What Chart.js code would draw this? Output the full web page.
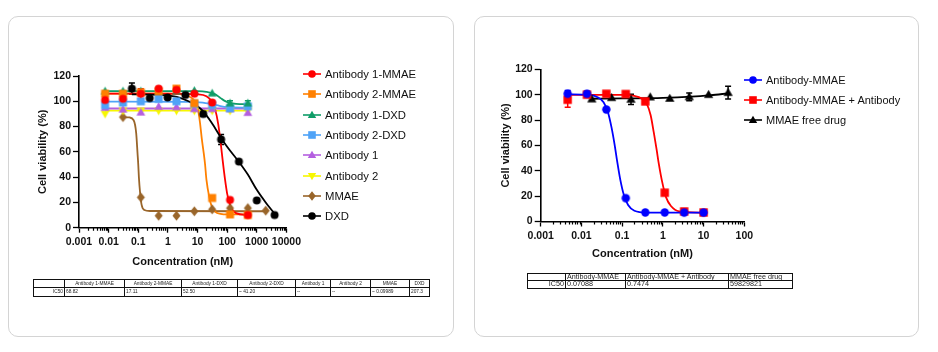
<!DOCTYPE html>
<html>
<head>
<meta charset="utf-8">
<script src="https://cdn.jsdelivr.net/npm/chart.js@4.4.0/dist/chart.umd.min.js"></script>
<style>
  body { margin: 0; background: #fff; font-family: "Liberation Sans", Arial, sans-serif; width: 938px; height: 352px; overflow: hidden; }
  .card { position: absolute; border: 1px solid #d4d4d4; border-radius: 10px; background: #fff; }
  canvas { position: absolute; }
  .legend { position: absolute; color: #111; }
  .legend div { display: flex; align-items: center; white-space: nowrap; }
  .legend canvas { position: static; margin-right: 3px; }
  table { position: absolute; border-collapse: collapse; color: #222; table-layout: fixed; transform: translateZ(0); will-change: transform; }
  td { border: 1px solid #111; padding: 0 1px; white-space: nowrap; overflow: hidden; }
</style>
</head>
<body>
<div class="card" style="left:8px;top:16px;width:444px;height:319px"></div>
<div class="card" style="left:474px;top:16px;width:443px;height:319px"></div>

<canvas id="left" width="274" height="209" style="left:30px;top:60px"></canvas>
<canvas id="right" width="270" height="206" style="left:494px;top:55px"></canvas>
<div class="legend" id="leftLegend" style="left:302px;top:64px;font-size:11.3px"></div>
<div class="legend" id="rightLegend" style="left:743px;top:70px;font-size:11px"></div>
<table id="leftTable" style="left:33px;top:279px;width:396px;font-size:4.8px"></table>
<table id="rightTable" style="left:527px;top:273px;width:265px;font-size:7.2px"></table>

<script>
/* =================================================================
    Data : left chart (8 compounds)
================================================================= */

var leftNames = ["Antibody 1-MMAE", "Antibody 2-MMAE", "Antibody 1-DXD", "Antibody 2-DXD",
                 "Antibody 1", "Antibody 2", "MMAE", "DXD"];
var leftColors = ["#ff0000", "#ff8000", "#0f9d68", "#4fa3f7", "#b45fe0", "#f7f700", "#99652a", "#000000"];
var leftMarkers = ["circle", "rect", "triangle", "rect", "triangle", "triangleDown", "rectRot", "circle"];

var concAb = [0.0076, 0.0305, 0.122, 0.488, 1.95, 7.81, 31.25, 125, 500];
var concMmae = [0.0305, 0.122, 0.488, 1.95, 7.81, 31.25, 125, 500, 2000];
var concDxd = [0.061, 0.244, 0.977, 3.9, 15.6, 62.5, 250, 1000, 4000];

var ab1MmaeY = [101, 102, 106, 110, 109, 106, 99, 22, 10];
var ab1MmaeErr = [0, 5, 4, 0, 0, 0, 0, 0, 0];
var ab2MmaeY = [106, 106, 107, 108, 110, 98.5, 23.5, 10.5, 10];
var ab2MmaeErr = [0, 0, 0, 0, 0, 0, 0, 0, 0];
var ab1DxdY = [108, 108, 108, 108, 108, 108.4, 106.4, 98.5, 98.5];
var ab1DxdErr = [0, 0, 0, 0, 0, 0, 0, 2, 2];
var ab2DxdY = [97, 99, 100, 102, 100, 98, 97, 94.5, 96];
var ab2DxdErr = [0, 0, 0, 0, 0, 0, 0, 0, 0];
var ab1Y = [95, 93.6, 91.3, 95.8, 95.5, 94, 94, 94, 91];
var ab2Y = [90, 92.5, 92.5, 92.5, 92.5, 92.5, 92.5, 92.5, 92.5];
var mmaeY = [87.5, 24, 9.5, 9.5, 13, 14.5, 15.5, 15.5, 13.5];
var dxdY = [110, 102.5, 103, 105, 90, 69.8, 52.3, 21.6, 10];
var dxdErr = [4.5, 0, 0, 0, 2, 4, 0, 0, 0];

// fitted curves
var ab1MmaeFitX = [0.0076, 1, 10, 20, 30, 40, 50, 60, 70, 85, 100, 130, 200, 500];
var ab1MmaeFitY = [106, 106, 105.5, 104, 100, 93, 82, 68, 54, 38, 27, 17, 11.5, 10];
var ab2MmaeFitX = [0.0076, 1, 5, 8, 10, 12, 14, 16, 18, 20, 25, 30, 40, 60, 100, 500];
var ab2MmaeFitY = [106, 106, 104, 100, 95, 84, 70, 60, 50, 38, 24, 17, 12.5, 11, 10.5, 10.5];
var ab1DxdFitX = [0.0076, 10, 20, 40, 60, 80, 120, 200, 500];
var ab1DxdFitY = [108, 108, 107.5, 105.5, 102.5, 100.5, 98.8, 98, 97.8];
var ab2DxdFitX = [0.0076, 5, 15, 30, 41, 60, 100, 500];
var ab2DxdFitY = [99.8, 99.6, 99, 97.8, 97.2, 96.2, 95.4, 95];
var ab1FitX = [0.0076, 500];
var ab1FitY = [94.3, 94.3];
var ab2FitX = [0.0076, 500];
var ab2FitY = [92.6, 92.6];
var mmaeFitX = [0.0305, 0.05, 0.07, 0.085, 0.095, 0.1, 0.105, 0.115, 0.13, 0.16, 0.25, 2000];
var mmaeFitY = [87.5, 87.2, 85, 75, 58, 50, 40, 28, 18, 14, 13.2, 13];
var dxdFitX = [0.061, 0.5, 2, 5, 10, 15.6, 30, 62.5, 100, 250, 500, 1000, 2000, 4000];
var dxdFitY = [105.5, 105, 103.5, 100, 96, 92, 83, 71, 64, 52, 42, 30, 20, 11];

var leftXMajor = ["0.001", "0.01", "0.1", "1", "10", "100", "1000", "10000"];

var leftTableHead = ["", "Antibody 1-MMAE", "Antibody 2-MMAE", "Antibody 1-DXD", "Antibody 2-DXD",
                     "Antibody 1", "Antibody 2", "MMAE", "DXD"];
var leftTableIc50 = ["IC50", "68.82", "17.11", "52.50", "~ 41.20", "--", "--", "~ 0.09989", "207.3"];

/* =================================================================
    Data : right chart
================================================================= */

var rightNames = ["Antibody-MMAE", "Antibody-MMAE + Antibody", "MMAE free drug"];
var rightColors = ["#0000ff", "#ff0000", "#000000"];
var rightMarkers = ["circle", "rect", "triangle"];

var concAdc = [0.0046, 0.0137, 0.041, 0.123, 0.37, 1.11, 3.33, 10];
var concFree = [0.018, 0.055, 0.165, 0.49, 1.48, 4.44, 13.3, 40];

var adcY = [100.7, 100.7, 88.3, 18.4, 7.1, 7.1, 7, 7];
var adcErr = [2.5, 2, 0, 0, 0, 0, 0, 0];
var comboY = [96, 100, 100.7, 100.5, 94.7, 22.7, 7.9, 7.1];
var comboErr = [6, 0, 0, 0, 0, 0, 0, 0];
var freeY = [96.5, 97.6, 96.3, 98.1, 97, 98.3, 100, 101.6];
var freeErr = [0, 0, 4, 0, 0, 3, 0, 5];

var adcFitX = [0.0046, 0.015, 0.025, 0.035, 0.045, 0.055, 0.065, 0.075, 0.09, 0.11, 0.14, 0.2, 0.4, 10];
var adcFitY = [100.3, 99.8, 98, 94, 86, 74, 61, 48, 33, 21, 13, 8.5, 7, 7];
var comboFitX = [0.0046, 0.1, 0.2, 0.3, 0.4, 0.5, 0.6, 0.7, 0.8, 0.95, 1.2, 1.6, 2.5, 10];
var comboFitY = [99.8, 99.8, 99, 97, 93, 84, 70, 57, 45, 32, 19, 12, 8, 7];
var freeFitX = [0.018, 0.1, 1, 5, 15, 40];
var freeFitY = [96.8, 97, 97.4, 98.4, 99.6, 101];

var rightXMajor = ["0.001", "0.01", "0.1", "1", "10", "100"];

var rightTableHead = ["", "Antibody-MMAE", "Antibody-MMAE + Antibody", "MMAE free drug"];
var rightTableIc50 = ["IC50", "0.07088", "0.7474", "59829821"];

/* =================================================================
    Helpers
================================================================= */

Chart.defaults.font.family = "'Liberation Sans', Arial, sans-serif";
Chart.defaults.color = "#111";

function pairs(xs, ys) {
    return xs.map(function (x, i) { return { x: x, y: ys[i] }; });
}

function marker(ctx, style, x, y, r) {
    ctx.beginPath();
    if (style === "circle") {
        ctx.arc(x, y, r, 0, Math.PI * 2);
    } else if (style === "rect") {
        ctx.rect(x - r, y - r, 2 * r, 2 * r);
    } else if (style === "rectRot") {
        ctx.moveTo(x, y - r * 1.25); ctx.lineTo(x + r, y); ctx.lineTo(x, y + r * 1.25); ctx.lineTo(x - r, y);
    } else if (style === "triangle") {
        ctx.moveTo(x, y - r * 1.15); ctx.lineTo(x + r * 1.1, y + r * 0.8); ctx.lineTo(x - r * 1.1, y + r * 0.8);
    } else if (style === "triangleDown") {
        ctx.moveTo(x, y + r * 1.15); ctx.lineTo(x + r * 1.1, y - r * 0.8); ctx.lineTo(x - r * 1.1, y - r * 0.8);
    }
    ctx.closePath();
    ctx.fill();
}

// Chart.js point style for a marker
function markerImage(style, color, r) {
    var c = document.createElement("canvas");
    var s = Math.ceil(r * 2.6) + 2;
    c.width = s; c.height = s;
    var g = c.getContext("2d");
    g.fillStyle = color;
    marker(g, style, s / 2, s / 2, r);
    return c;
}

function buildLegend(el, names, colors, markers, rowH, r) {
    names.forEach(function (n, i) {
        var row = document.createElement("div");
        row.style.height = rowH + "px";
        var ic = document.createElement("canvas");
        ic.width = 20; ic.height = 12;
        var g = ic.getContext("2d");
        g.strokeStyle = colors[i]; g.lineWidth = 1.6;
        g.beginPath(); g.moveTo(1, 6); g.lineTo(19, 6); g.stroke();
        g.fillStyle = colors[i];
        marker(g, markers[i], 10, 6, r);
        var t = document.createElement("span");
        t.textContent = n;
        row.appendChild(ic); row.appendChild(t);
        el.appendChild(row);
    });
}

function buildTable(el, head, row, widths, rowH, headAlign) {
    var cg = document.createElement("colgroup");
    widths.forEach(function (w) {
        var c = document.createElement("col"); c.style.width = w + "px"; cg.appendChild(c);
    });
    el.appendChild(cg);
    [head, row].forEach(function (cells, r) {
        var tr = document.createElement("tr");
        cells.forEach(function (txt, i) {
            var td = document.createElement("td");
            td.textContent = txt;
            td.style.height = rowH + "px";
            td.style.lineHeight = rowH + "px";
            td.style.textAlign = (i === 0) ? "right" : (r === 0 ? headAlign : "left");
            tr.appendChild(td);
        });
        el.appendChild(tr);
    });
}

var errorBars = {
    id: "errorBars",
    beforeDatasetsDraw: function (chart) {
        var ctx = chart.ctx;
        var yScale = chart.scales.y;
        chart.data.datasets.forEach(function (ds, i) {
            if (!ds.errors) return;
            var meta = chart.getDatasetMeta(i);
            ctx.save();
            ctx.strokeStyle = ds.borderColor;
            ctx.lineWidth = 1.5;
            meta.data.forEach(function (pt, j) {
                var e = ds.errors[j];
                if (!e) return;
                var v = ds.data[j].y;
                var top = yScale.getPixelForValue(v + e);
                var bot = yScale.getPixelForValue(v - e);
                ctx.beginPath();
                ctx.moveTo(pt.x, top); ctx.lineTo(pt.x, bot);
                ctx.moveTo(pt.x - 3, top); ctx.lineTo(pt.x + 3, top);
                ctx.moveTo(pt.x - 3, bot); ctx.lineTo(pt.x + 3, bot);
                ctx.stroke();
            });
            ctx.restore();
        });
    }
};

// short unlabeled ticks between the labelled ones
var minorTicks = {
    id: "minorTicks",
    afterDraw: function (chart) {
        var ctx = chart.ctx;
        var xs = chart.scales.x, ys = chart.scales.y;
        ctx.save();
        ctx.strokeStyle = "#000";
        ctx.lineWidth = 1.2;
        ctx.beginPath();
        xs.ticks.forEach(function (t) {
            if (t.major) return;
            var p = Math.round(xs.getPixelForValue(t.value)) + 0.5;
            ctx.moveTo(p, xs.top); ctx.lineTo(p, xs.top + 3);
        });
        ys.ticks.forEach(function (t) {
            if (t.value % 20 === 0) return;
            var p = ys.getPixelForValue(t.value);
            ctx.moveTo(ys.right, p); ctx.lineTo(ys.right - 4, p);
        });
        ctx.stroke();
        ctx.restore();
    }
};

function isDecade(v) {
    var l = Math.log10(v);
    return Math.abs(l - Math.round(l)) < 1e-9;
}

function makeScales(xMajor, yWidth, xHeight, titlePadX) {
    var minX = parseFloat(xMajor[0]);
    var maxX = parseFloat(xMajor[xMajor.length - 1]);
    return {
        x: {
            type: "logarithmic",
            min: minX, max: maxX,
            afterBuildTicks: function (scale) {
                var t = [];
                for (var d = 0; d < xMajor.length - 1; d++) {
                    var base = parseFloat(xMajor[d]);
                    for (var k = 1; k <= 9; k++) t.push({ value: k * base, major: k === 1 });
                }
                t.push({ value: maxX, major: true });
                scale.ticks = t;
            },
            afterFit: function (scale) { scale.height = xHeight; },
            border: { color: "#000", width: 1.6 },
            grid: {
                drawOnChartArea: false, tickLength: 5, tickWidth: 1.3,
                tickColor: function (c) { return c.tick && c.tick.major ? "#000" : "rgba(0,0,0,0)"; }
            },
            ticks: {
                autoSkip: false, maxRotation: 0, padding: 3,
                font: { size: 10.5, weight: "bold" }, color: "#111",
                callback: function (v) {
                    if (!isDecade(v)) return "";
                    var i = xMajor.map(parseFloat).findIndex(function (m) { return Math.abs(m - v) / m < 1e-6; });
                    return i >= 0 ? xMajor[i] : "";
                }
            },
            title: { display: true, text: "Concentration (nM)", font: { size: 11, weight: "bold" }, color: "#111", padding: { top: 0, bottom: 0 } }
        },
        y: {
            min: 0, max: 120,
            afterFit: function (scale) { scale.width = yWidth; },
            border: { color: "#000", width: 1.6 },
            grid: {
                drawOnChartArea: false, tickLength: 6, tickWidth: 1.3,
                tickColor: function (c) { return c.tick && c.tick.value % 20 === 0 ? "#000" : "rgba(0,0,0,0)"; }
            },
            ticks: {
                stepSize: 10, padding: 2,
                font: { size: 10.5, weight: "bold" }, color: "#111",
                callback: function (v) { return v % 20 === 0 ? v : ""; }
            },
            title: { display: true, text: "Cell viability (%)", font: { size: 11, weight: "bold" }, color: "#111", padding: { top: titlePadX, bottom: 0 } }
        }
    };
}

function seriesSets(name, color, style, r, xs, ys, errs, fx, fy) {
    return {
        points: {
            label: name, data: pairs(xs, ys), errors: errs,
            showLine: false, borderColor: color, backgroundColor: color,
            pointStyle: markerImage(style, color, r), pointRadius: r
        },
        fit: {
            label: name + " fit", data: pairs(fx, fy),
            showLine: true, borderColor: color, borderWidth: 1.8,
            pointRadius: 0, cubicInterpolationMode: "monotone", fill: false
        }
    };
}

/* =================================================================
    Left chart
================================================================= */

var leftSeries = [
    [concAb, ab1MmaeY, ab1MmaeErr, ab1MmaeFitX, ab1MmaeFitY],
    [concAb, ab2MmaeY, ab2MmaeErr, ab2MmaeFitX, ab2MmaeFitY],
    [concAb, ab1DxdY, ab1DxdErr, ab1DxdFitX, ab1DxdFitY],
    [concAb, ab2DxdY, ab2DxdErr, ab2DxdFitX, ab2DxdFitY],
    [concAb, ab1Y, null, ab1FitX, ab1FitY],
    [concAb, ab2Y, null, ab2FitX, ab2FitY],
    [concMmae, mmaeY, null, mmaeFitX, mmaeFitY],
    [concDxd, dxdY, dxdErr, dxdFitX, dxdFitY]
];
var leftPoints = [], leftFits = [];
leftSeries.forEach(function (s, i) {
    var d = seriesSets(leftNames[i], leftColors[i], leftMarkers[i], 4, s[0], s[1], s[2], s[3], s[4]);
    leftPoints.push(d.points); leftFits.push(d.fit);
});
// black points sit on top, then red ... as in the figure
var leftOrder = [7, 0, 1, 2, 3, 4, 5, 6];

var leftChart = new Chart(document.getElementById("left"), {
    type: "scatter",
    data: { datasets: leftOrder.map(function (i) { return leftPoints[i]; }).concat(leftOrder.map(function (i) { return leftFits[i]; })) },
    options: {
        responsive: false, animation: false,
        layout: { padding: { top: 16, right: 16, left: 0, bottom: 0 } },
        plugins: { legend: { display: false }, tooltip: { enabled: false } },
        scales: makeScales(leftXMajor, 49, 41.3, 6)
    },
    plugins: [errorBars, minorTicks]
});

/* =================================================================
    Right chart
================================================================= */

var rightSeries = [
    [concAdc, adcY, adcErr, adcFitX, adcFitY],
    [concAdc, comboY, comboErr, comboFitX, comboFitY],
    [concFree, freeY, freeErr, freeFitX, freeFitY]
];
var rightPoints = [], rightFits = [];
rightSeries.forEach(function (s, i) {
    var d = seriesSets(rightNames[i], rightColors[i], rightMarkers[i], 4.2, s[0], s[1], s[2], s[3], s[4]);
    rightPoints.push(d.points); rightFits.push(d.fit);
});

var rightChart = new Chart(document.getElementById("right"), {
    type: "scatter",
    data: { datasets: [rightPoints[0], rightPoints[1], rightPoints[2], rightFits[0], rightFits[1], rightFits[2]] },
    options: {
        responsive: false, animation: false,
        layout: { padding: { top: 14.3, right: 19.7, left: 0, bottom: 0 } },
        plugins: { legend: { display: false }, tooltip: { enabled: false } },
        scales: makeScales(rightXMajor, 46.7, 39.5, 5)
    },
    plugins: [errorBars, minorTicks]
});

/* =================================================================
    Legends and IC50 tables
================================================================= */

buildLegend(document.getElementById("leftLegend"), leftNames, leftColors, leftMarkers, 20.3, 3.8);
buildLegend(document.getElementById("rightLegend"), rightNames, rightColors, rightMarkers, 20.2, 3.8);
buildTable(document.getElementById("leftTable"), leftTableHead, leftTableIc50,
           [31, 60, 57, 56, 58, 35, 40, 39, 20], 7.3, "center");
buildTable(document.getElementById("rightTable"), rightTableHead, rightTableIc50,
           [38, 60, 103, 64], 6.4, "left");
</script>
</body>
</html>
